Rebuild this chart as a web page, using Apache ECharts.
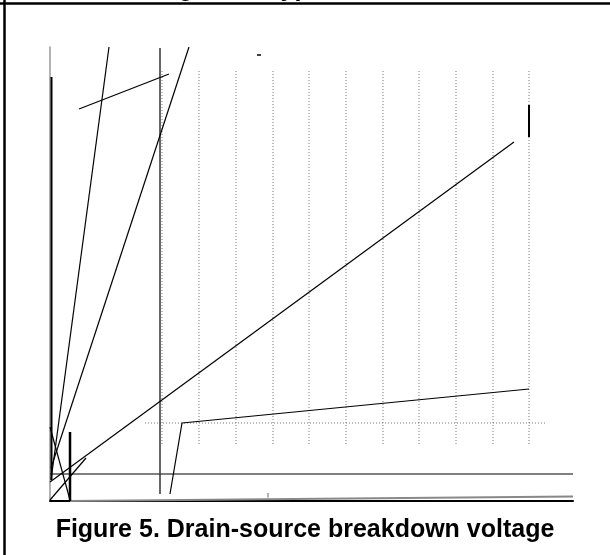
<!DOCTYPE html>
<html>
<head>
<meta charset="utf-8">
<script src="https://cdn.jsdelivr.net/npm/echarts@6/dist/echarts.min.js"></script>
<style>
  html, body { margin: 0; padding: 0; background: #fff; }
  #chart { width: 610px; height: 555px; }
</style>
</head>
<body>
<div id="chart"></div>
<script>
// segments, in plot units (x 0..104.6, y 0..90.8)
const steepLineA = [[0.2, 4.2], [11.8, 90.8]]
const steepLineB = [[0.2, 6.6], [27.8, 90.8]]
const longDiagonal = [[0, 3.8], [92.8, 71.8]]
const shortSlant = [[5.8, 78.4], [23.8, 85.4]]
const leftBar = [[0.3, 4.2], [0.3, 84.8]]
const midBar = [[22, 1.4], [22, 90.6]]
const lowBar = [[4, 0], [4, 13.8]]
const backSlash = [[0, 14.8], [4, 0.2]]
const cornerSlash = [[0, 0.2], [7.2, 8.6]]
const kneeCurve = [[24, 1.4], [26.4, 15.6], [95.8, 22.4]]
const baseRule = [[0, 5.4], [104.6, 5.4]]
const floorLine = [[4, 0], [104.6, 0.9]]
const floorTick = [[43.6, 0.7], [43.6, 1.6]]
const rightBar = [[95.8, 72.8], [95.8, 79.2]]
const topDash = [[41.4, 89.2], [42.2, 89.2]]

// dotted grid
const gridX = [22.4, 29.8, 37.2, 44.6, 51.8, 59.2, 66.6, 73.8, 81.2, 88.6, 95.8]
const gridSpan = [11.4, 86.2]
const gridRowY = 15.6
const gridRowSpan = [19, 99]

const captionText = 'Figure 5. Drain-source breakdown voltage'
const clippedTitle = 'Figure 4. Typical'

const chart = echarts.init(document.getElementById('chart'))

function seg(data, color, width, type) {
  return {
    type: 'line',
    data: data,
    symbol: 'none',
    silent: true,
    animation: false,
    lineStyle: { color: color, width: width, type: type || 'solid' }
  }
}

const series = [
  seg(baseRule, '#555', 1.5),
  seg(floorLine, '#888', 2),
  seg(floorTick, '#666', 1),
  seg(leftBar, '#000', 2),
  seg(midBar, '#333', 1.5),
  seg(lowBar, '#000', 2.5),
  seg(steepLineA, '#000', 1.2),
  seg(steepLineB, '#000', 1.2),
  seg(longDiagonal, '#000', 1.2),
  seg(shortSlant, '#000', 1.2),
  seg(backSlash, '#000', 1.2),
  seg(cornerSlash, '#000', 1.2),
  seg(kneeCurve, '#000', 1.2),
  seg(rightBar, '#000', 2),
  seg(topDash, '#000', 1.5)
]

gridX.forEach(function (x) {
  series.unshift(seg([[x, gridSpan[0]], [x, gridSpan[1]]], '#777', 1, [1, 2]))
})
series.unshift(seg([[gridRowSpan[0], gridRowY], [gridRowSpan[1], gridRowY]], '#777', 1, [1, 2]))

chart.setOption({
  animation: false,
  title: {
    text: captionText,
    left: 'center',
    top: 513,
    textStyle: {
      fontFamily: 'Liberation Sans, Arial, sans-serif',
      fontSize: 25,
      fontWeight: 'bold',
      color: '#000'
    }
  },
  graphic: [
    {
      type: 'text',
      left: 156,
      top: -23,
      style: {
        text: clippedTitle,
        font: 'bold 25px "Liberation Sans", Arial, sans-serif',
        fill: '#000'
      }
    },
    { type: 'line', shape: { x1: 4.5, y1: 0, x2: 4.5, y2: 555 }, style: { stroke: '#000', lineWidth: 2.5 } },
    { type: 'line', shape: { x1: 0, y1: 3.5, x2: 610, y2: 3.5 }, style: { stroke: '#000', lineWidth: 2.5 } }
  ],
  grid: {
    left: 50,
    right: 37,
    top: 47,
    bottom: 54
  },
  xAxis: {
    type: 'value',
    min: 0,
    max: 104.6,
    axisLine: { show: true, lineStyle: { color: '#000', width: 2 } },
    axisTick: { show: false },
    axisLabel: { show: false },
    splitLine: { show: false }
  },
  yAxis: {
    type: 'value',
    min: 0,
    max: 90.8,
    axisLine: { show: true, lineStyle: { color: '#999', width: 1.5 } },
    axisTick: { show: false },
    axisLabel: { show: false },
    splitLine: { show: false }
  },
  series: series
})
</script>
</body>
</html>
